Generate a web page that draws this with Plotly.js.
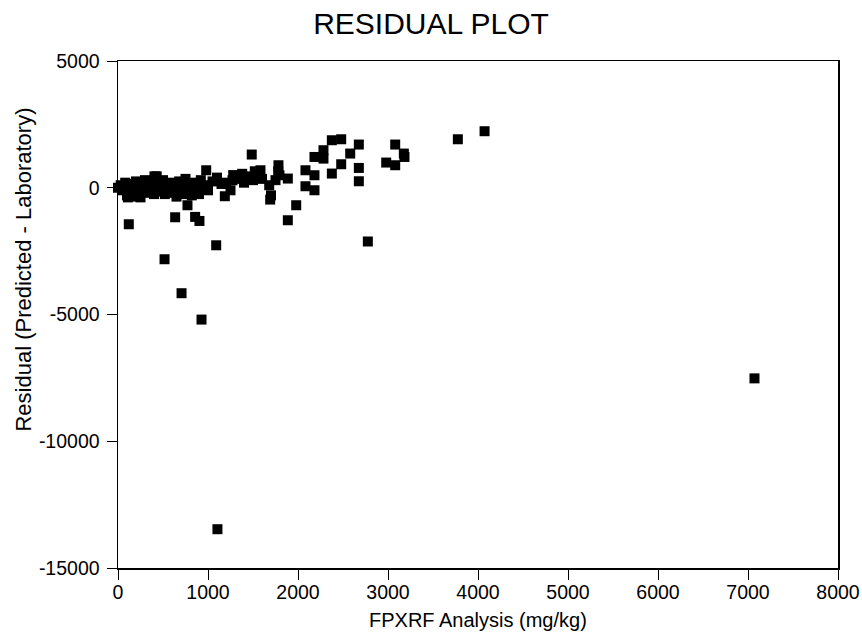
<!DOCTYPE html>
<html>
<head>
<meta charset="utf-8">
<script src="https://cdn.plot.ly/plotly-3.0.1.min.js"></script>
<style>html,body{margin:0;padding:0;background:#fff;}#chart{width:862px;height:642px;}</style>
</head>
<body>
<div id="chart"></div>
<script>
// FPXRF analysis values (mg/kg)
const fpxrf = [
  1105, 7072, 4073, 3776, 2776, 1091, 928, 706, 517, 120,
  635, 857, 905, 772, 1187, 1691, 1887, 1980, 1783, 1583,
  1486, 1272, 980, 405,
  3080, 3176, 3183, 2980, 3080, 2480, 2376, 2676, 2580, 2283,
  2183, 2283, 2480, 2376, 2676, 2676, 2083, 2183, 2083, 2183,
  1887, 1794,
  0, 30, 50, 80, 100, 110, 130, 150, 170, 190,
  200, 220, 250, 270, 300, 320, 350, 380, 400, 430,
  450, 480, 500, 520, 550, 580, 600, 620, 650, 680,
  700, 720, 750, 780, 800, 820, 850, 870, 900, 920,
  950, 1000, 1050, 1100, 1150, 1200, 1250, 1280, 1320, 1380,
  1400, 1450, 1500, 1520, 1550, 1600, 1680, 1700, 1750, 1780
];
// Residuals (Predicted - Laboratory)
const residual = [
  -13470, -7520, 2230, 1913, -2120, -2270, -5200, -4160, -2820, -1440,
  -1164, -1150, -1310, -690, -335, -466, -1282, -690, 888, 690,
  1310, 296, 690, 450,
  1704, 1349, 1215, 994, 888, 1913, 1874, 1704, 1349, 1480,
  1215, 1150, 927, 560, 782, 256, 690, 493, 59, -99,
  363, 493,
  0, 100, -100, 200, -300, -380, 150, -200, 50, -350,
  250, -100, -380, 100, 300, -200, 0, 200, -250, 450,
  100, -150, 300, -250, 50, 200, -200, 100, -350, 250,
  0, -250, 350, -100, 150, -300, 200, -50, -250, 300,
  100, -100, 250, 400, 150, 200, -100, 500, 350, 550,
  200, 450, 300, 650, 550, 350, 100, -300, 300, 650
];

const xTicks = [0, 1000, 2000, 3000, 4000, 5000, 6000, 7000, 8000];
const yTicks = [5000, 0, -5000, -10000, -15000];
const xTitle = 'FPXRF Analysis (mg/kg)';
const yTitle = 'Residual (Predicted - Laboratory)';

const trace = {
  x: fpxrf,
  y: residual,
  type: 'scatter',
  mode: 'markers',
  cliponaxis: false,
  marker: {symbol: 'square', size: 10, color: '#000000'},
  hoverinfo: 'x+y'
};

const fam = 'Liberation Sans, Arial, sans-serif';
const tickFont = {family: fam, size: 19.5, color: '#000'};

const layout = {
  width: 862,
  height: 642,
  margin: {l: 118, r: 24, t: 61, b: 74},
  paper_bgcolor: '#fff',
  plot_bgcolor: '#fff',
  showlegend: false,
  title: {
    text: 'RESIDUAL PLOT',
    font: {family: fam, size: 30, color: '#000'},
    x: 0.5, xanchor: 'center', y: 0.964, yanchor: 'middle'
  },
  xaxis: {
    range: [0, 8000],
    tickvals: xTicks,
    ticktext: xTicks.map(String),
    ticks: 'outside', ticklen: 10, tickwidth: 1, tickcolor: '#000',
    ticklabelstandoff: -4,
    showline: true, linecolor: '#000', linewidth: 1.5, mirror: true,
    showgrid: false, zeroline: false,
    tickfont: tickFont
  },
  yaxis: {
    range: [-15000, 5000],
    tickvals: yTicks,
    ticktext: yTicks.map(String),
    ticks: 'outside', ticklen: 10, tickwidth: 1, tickcolor: '#000',
    ticklabelstandoff: 3,
    showline: true, linecolor: '#000', linewidth: 1.5, mirror: true,
    showgrid: false, zeroline: false,
    tickfont: tickFont
  },
  annotations: [
    {
      text: xTitle, showarrow: false,
      xref: 'paper', yref: 'paper',
      x: 0.5, y: -0.1026, xanchor: 'center', yanchor: 'middle',
      font: {family: fam, size: 20, color: '#000'}
    },
    {
      text: yTitle, showarrow: false, textangle: -90,
      xref: 'paper', yref: 'paper',
      x: -0.131, y: 0.588, xanchor: 'center', yanchor: 'middle',
      font: {family: fam, size: 22, color: '#000'}
    }
  ]
};

Plotly.newPlot('chart', [trace], layout, {displayModeBar: false, staticPlot: true});
</script>
</body>
</html>
